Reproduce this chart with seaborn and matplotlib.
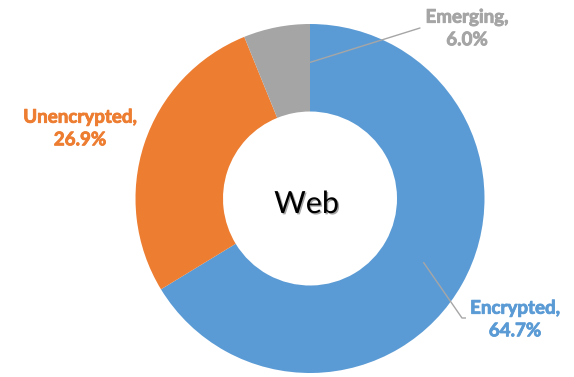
import numpy as np
import matplotlib
matplotlib.use("Agg")
import matplotlib.pyplot as plt
import matplotlib.patheffects as pe
import seaborn as sns

# ---- data ----
categories = ["Encrypted", "Unencrypted", "Emerging"]
values = [64.7, 26.9, 6.0]
colors = ["#5B9BD5", "#ED7D31", "#A5A5A5"]
center_title = "Web"

sns.set_theme(style="white")
plt.rcParams["font.family"] = ["Lato", "DejaVu Sans"]

W, H = 574, 377
fig = plt.figure(figsize=(W / 100, H / 100), dpi=100)
ax = fig.add_axes([0, 0, 1, 1])

cx, cy = 310, H - 198.5
R = 174.5
ring = 87.5

wedges, _ = ax.pie(values, colors=colors, startangle=90, counterclock=False,
                   center=(cx, cy), radius=R,
                   wedgeprops=dict(width=ring, linewidth=0))
ax.set_xlim(0, W)
ax.set_ylim(0, H)
ax.set_aspect("equal")
ax.axis("off")

# label positions (layout)
label_pos = {"Encrypted": (515, H - 319.5),
             "Unencrypted": (80, H - 128.5),
             "Emerging": (467, H - 28.5)}

for w, cat, val, col in zip(wedges, categories, values, colors):
    x, y = label_pos[cat]
    ax.text(x, y, f"{cat},\n{val:.1f}%", color=col, fontsize=13.5,
            fontweight="bold", ha="center", va="center",
            multialignment="center", linespacing=1.4,
            path_effects=[pe.withStroke(linewidth=0.6, foreground=col)])

# leader lines computed from wedge geometry
line_col = "#A6A6A6"
w_enc = wedges[0]
mid = np.deg2rad((w_enc.theta1 + w_enc.theta2) / 2)
r0 = 0.745 * R
p0 = (cx + r0 * np.cos(mid), cy + r0 * np.sin(mid))
ax.plot([p0[0], 462, 466], [p0[1], H - 318, H - 318], color=line_col, lw=1,
        solid_capstyle="butt")

w_em = wedges[2]
edge = np.deg2rad(w_em.theta2 if abs((w_em.theta2 % 360) - 90) < 1 else w_em.theta1)
r1 = 0.78 * R
p1 = (cx + r1 * np.cos(edge), cy + r1 * np.sin(edge))
ax.plot([p1[0], 420], [p1[1], H - 28], color=line_col, lw=1)

ax.text(306.5, H - 204, center_title, fontsize=22, color="black",
        ha="center", va="center",
        path_effects=[pe.SimplePatchShadow(offset=(1, -1), alpha=0.35), pe.Normal()])

fig.savefig("out.png", dpi=100)
